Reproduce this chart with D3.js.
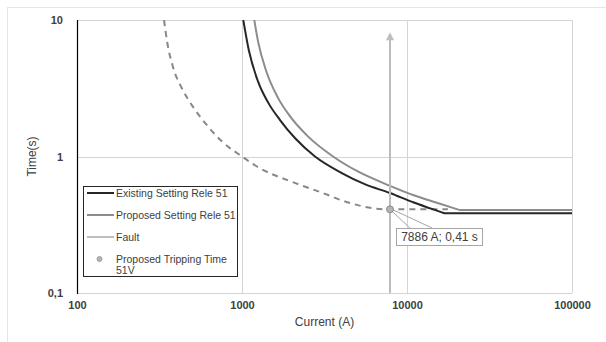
<!DOCTYPE html>
<html>
<head>
<meta charset="utf-8">
<script src="https://cdn.jsdelivr.net/npm/d3@7"></script>
<style>
  body { margin: 0; background: #fff; }
  svg { font-family: "Liberation Sans", Arial, sans-serif; }
</style>
</head>
<body>
<div id="chart"></div>
<script>
// data (current in A, time in s)
const existingI = [1018, 1100, 1250, 1450, 1700, 2100, 2770, 4000, 5500, 7886, 11000, 14000, 16800];
const existingT = [10, 6.0, 3.55, 2.45, 1.85, 1.36, 1.0, 0.76, 0.63, 0.54, 0.46, 0.415, 0.384];
const existingFlatI = [16800, 100000];
const existingFlatT = [0.384, 0.384];

const proposedI = [1187, 1250, 1400, 1650, 1936, 2500, 3564, 5000, 7886, 11000, 15000, 20900];
const proposedT = [10, 7.0, 4.25, 2.7, 2.0, 1.41, 1.0, 0.78, 0.61, 0.52, 0.46, 0.405];
const proposedFlatI = [20900, 100000];
const proposedFlatT = [0.405, 0.405];

const dashedI = [337, 352, 380, 430, 500, 600, 750, 1000, 1285, 1954, 2970, 4513, 6400, 7886, 17700];
const dashedT = [10, 6.9, 4.6, 3.2, 2.35, 1.75, 1.3, 1.0, 0.82, 0.66, 0.55, 0.456, 0.416, 0.41, 0.41];

const faultI = [7886, 7886];
const faultT = [0.1, 8.0];

const tripI = 7886, tripT = 0.41;
const tripLabel = "7886 A; 0,41 s";

const xTicks = [100, 1000, 10000, 100000];
const xTickLabels = ["100", "1000", "10000", "100000"];
const yTicks = [0.1, 1, 10];
const yTickLabels = ["0,1", "1", "10"];

const legendNames = ["Existing Setting Rele 51", "Proposed Setting Rele 51", "Fault", "Proposed Tripping Time"];

// layout
const W = 606, H = 342;
const pL = 77, pR = 572, pT = 20, pB = 293;

const svg = d3.select("#chart").append("svg")
  .attr("width", W).attr("height", H);

// outer frame
svg.append("rect")
  .attr("x", 7.5).attr("y", 7.5).attr("width", W + 10).attr("height", H + 10)
  .attr("fill", "none").attr("stroke", "#e6e6e6");

const x = d3.scaleLog().domain([100, 100000]).range([pL, pR]);
const y = d3.scaleLog().domain([0.1, 10]).range([pB, pT]);

// grid
svg.append("g").selectAll("line").data(xTicks.slice(1))
  .join("line")
  .attr("x1", d => Math.round(x(d)) + 0.5).attr("x2", d => Math.round(x(d)) + 0.5)
  .attr("y1", pT).attr("y2", pB)
  .attr("stroke", "#d4d4d4");
svg.append("g").selectAll("line").data(yTicks.slice(1))
  .join("line")
  .attr("x1", pL).attr("x2", pR)
  .attr("y1", d => Math.round(y(d)) + 0.5).attr("y2", d => Math.round(y(d)) + 0.5)
  .attr("stroke", "#d4d4d4");
svg.append("line").attr("x1", pL).attr("x2", pR)
  .attr("y1", pB + 0.5).attr("y2", pB + 0.5).attr("stroke", "#d4d4d4");

// axes
const xAxis = d3.axisBottom(x).tickValues(xTicks).tickSize(0)
  .tickFormat((d, i) => xTickLabels[i]);
const gx = svg.append("g").attr("transform", `translate(0,${pB + 5})`).call(xAxis);
gx.select(".domain").remove();
gx.selectAll("text").attr("font-size", 11).attr("font-weight", "bold").attr("fill", "#404040")
  .attr("font-family", "Liberation Sans, Arial, sans-serif");

const yAxis = d3.axisLeft(y).tickValues(yTicks).tickSize(0)
  .tickFormat((d, i) => yTickLabels[i]);
const gy = svg.append("g").attr("transform", `translate(${pL - 11},0)`).call(yAxis);
gy.select(".domain").remove();
gy.selectAll("text").attr("font-size", 11).attr("font-weight", "bold").attr("fill", "#404040")
  .attr("font-family", "Liberation Sans, Arial, sans-serif");

svg.append("line").attr("x1", pL + 0.5).attr("x2", pL + 0.5)
  .attr("y1", pT).attr("y2", pB + 1).attr("stroke", "#000").attr("stroke-width", 1.2);

// axis titles
svg.append("text").attr("x", (pL + pR) / 2).attr("y", 326)
  .attr("text-anchor", "middle").attr("font-size", 12).attr("fill", "#404040")
  .text("Current (A)");
svg.append("text").attr("transform", `translate(36,${(pT + pB) / 2}) rotate(-90)`)
  .attr("text-anchor", "middle").attr("font-size", 12).attr("fill", "#404040")
  .text("Time(s)");

// clip
svg.append("clipPath").attr("id", "clip").append("rect")
  .attr("x", pL).attr("y", pT).attr("width", pR - pL).attr("height", pB - pT);

const plot = svg.append("g").attr("clip-path", "url(#clip)");

const curve = d3.line().x(d => x(d[0])).y(d => y(d[1])).curve(d3.curveMonotoneX);
const straight = d3.line().x(d => x(d[0])).y(d => y(d[1]));
const zip = (a, b) => a.map((v, i) => [v, b[i]]);

// dashed curve
plot.append("path").attr("d", curve(zip(dashedI, dashedT)))
  .attr("fill", "none").attr("stroke", "#888").attr("stroke-width", 2)
  .attr("stroke-dasharray", "6,5");

// proposed
plot.append("path").attr("d", curve(zip(proposedI, proposedT)) + straight(zip(proposedFlatI, proposedFlatT)).replace("M", "L"))
  .attr("fill", "none").attr("stroke", "#8c8c8c").attr("stroke-width", 2);

// existing
plot.append("path").attr("d", curve(zip(existingI, existingT)) + straight(zip(existingFlatI, existingFlatT)).replace("M", "L"))
  .attr("fill", "none").attr("stroke", "#262626").attr("stroke-width", 2);

// fault arrow
const fx = x(faultI[0]);
const fy0 = y(faultT[0]), fy1 = y(faultT[1]);
plot.append("line").attr("x1", fx).attr("x2", fx).attr("y1", fy0).attr("y2", fy1 + 6)
  .attr("stroke", "#bdbdbd").attr("stroke-width", 2);
plot.append("path")
  .attr("d", `M${fx},${fy1 - 1}L${fx - 4},${fy1 + 7}L${fx + 4},${fy1 + 7}Z`)
  .attr("fill", "#bdbdbd");

// callout
const px = x(tripI), py = y(tripT);
const bx = 396, by = 228, bw = 86, bh = 17;
svg.append("path")
  .attr("d", `M${px},${py}L${bx + 14},${by}M${px + 2},${py}L${bx + 36},${by}`)
  .attr("stroke", "#a6a6a6").attr("stroke-width", 1).attr("fill", "none");
svg.append("rect").attr("x", bx + 0.5).attr("y", by + 0.5).attr("width", bw).attr("height", bh)
  .attr("fill", "#fff").attr("stroke", "#a6a6a6");
svg.append("text").attr("x", bx + bw / 2 + 0.5).attr("y", by + 13)
  .attr("text-anchor", "middle").attr("font-size", 12).attr("fill", "#404040")
  .text(tripLabel);

// trip point
svg.append("circle").attr("cx", px).attr("cy", py).attr("r", 3.5)
  .attr("fill", "#b3b3b3").attr("stroke", "#8c8c8c").attr("stroke-width", 1);

// legend
const lg = svg.append("g");
lg.append("rect").attr("x", 83.5).attr("y", 186.5).attr("width", 154).attr("height", 90)
  .attr("fill", "#fff").attr("stroke", "#262626").attr("stroke-width", 1);
const rowsY = [193, 215, 237, 259];
const rowColors = ["#262626", "#8c8c8c", "#bdbdbd"];
rowColors.forEach((c, i) => {
  lg.append("line").attr("x1", 87).attr("x2", 114).attr("y1", rowsY[i]).attr("y2", rowsY[i])
    .attr("stroke", c).attr("stroke-width", 2);
});
lg.append("circle").attr("cx", 99.5).attr("cy", rowsY[3]).attr("r", 2.5)
  .attr("fill", "#b3b3b3").attr("stroke", "#a0a0a0");
legendNames.forEach((n, i) => {
  lg.append("text").attr("x", 116).attr("y", rowsY[i] + 4)
    .attr("font-size", 10.5).attr("fill", "#404040").text(n);
});
lg.append("text").attr("x", 116).attr("y", rowsY[3] + 15)
  .attr("font-size", 10.5).attr("fill", "#404040").text("51V");
</script>
</body>
</html>
